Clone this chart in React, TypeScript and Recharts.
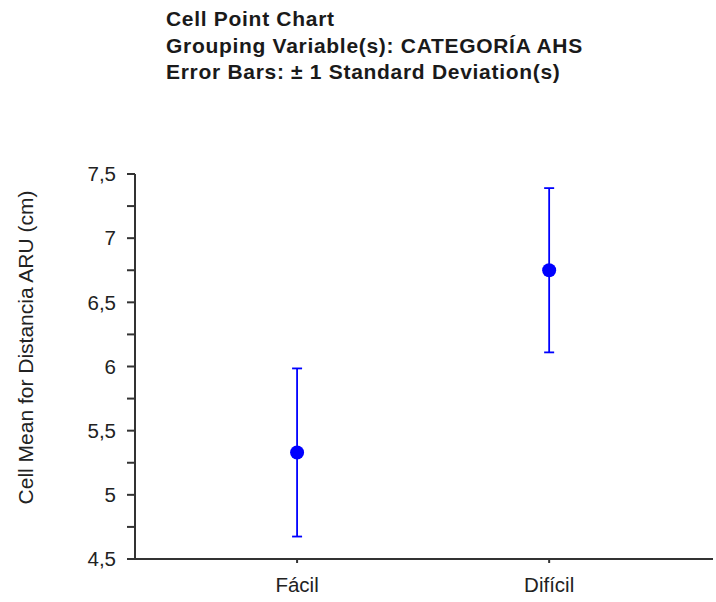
import { ScatterChart, Scatter, XAxis, YAxis, ErrorBar } from "recharts";

const categories = ["Fácil", "Difícil"];
const means = [5.33, 6.75];
const stdDevs = [0.655, 0.64];
const yTicks = [4.5, 4.75, 5, 5.25, 5.5, 5.75, 6, 6.25, 6.5, 6.75, 7, 7.25, 7.5];
const titleLines = [
  "Cell Point Chart",
  "Grouping Variable(s): CATEGORÍA AHS",
  "Error Bars: ± 1 Standard Deviation(s)",
];
const yTitle = "Cell Mean for Distancia ARU (cm)";

const font = "'Liberation Sans', Arial, sans-serif";

const fmtY = (v: number) => {
  // only label the half-unit ticks; the rest are minor ticks
  if (Math.abs(v * 2 - Math.round(v * 2)) > 1e-6) return "";
  return String(v).replace(".", ",");
};

function Dot(props: any) {
  return <circle cx={props.cx} cy={props.cy} r={7} fill="#0000ff" />;
}

function YTitle(props: any) {
  const vb = props.viewBox || {};
  const cx = 33;
  const cy = vb.y + vb.height / 2 - 19;
  return (
    <text
      x={cx}
      y={cy}
      transform={`rotate(-90 ${cx} ${cy})`}
      textAnchor="middle"
      fontSize={21}
      fill="#222"
      fontFamily={font}
    >
      {yTitle}
    </text>
  );
}

export default function App() {
  const data = categories.map((c, i) => ({ x: i, y: means[i], err: stdDevs[i], name: c }));

  return (
    <div style={{ position: "absolute", left: 0, top: 0, width: 716, height: 602, background: "#fff" }}>
      <div
        style={{
          position: "absolute",
          left: 166,
          top: 6,
          fontFamily: font,
          fontWeight: "bold",
          fontSize: 21,
          letterSpacing: 0.7,
          lineHeight: "26.5px",
          color: "#1a1a1a",
          whiteSpace: "nowrap",
        }}
      >
        {titleLines.map((t) => (
          <div key={t}>{t}</div>
        ))}
      </div>
      <ScatterChart width={716} height={602} margin={{ top: 174, right: 3, bottom: 0, left: 0 }}>
        <XAxis
          type="number"
          dataKey="x"
          domain={[-0.643, 1.65]}
          ticks={[0, 1]}
          tickFormatter={(v: number) => categories[v] ?? ""}
          allowDataOverflow
          height={43}
          stroke="#333"
          strokeWidth={2}
          tickSize={4}
          tickMargin={14}
          tick={{ fontSize: 20.5, fill: "#222", fontFamily: font }}
        />
        <YAxis
          type="number"
          dataKey="y"
          domain={[4.5, 7.5]}
          ticks={yTicks}
          interval={0}
          tickFormatter={fmtY}
          width={135}
          stroke="#333"
          strokeWidth={2}
          tickSize={8}
          tickMargin={11}
          tick={{ fontSize: 20.5, fill: "#222", fontFamily: font }}
          label={<YTitle />}
        />
        <Scatter data={data} shape={<Dot />} isAnimationActive={false}>
          <ErrorBar dataKey="err" direction="y" width={5} stroke="#0000ff" strokeWidth={1.8} />
        </Scatter>
      </ScatterChart>
    </div>
  );
}
